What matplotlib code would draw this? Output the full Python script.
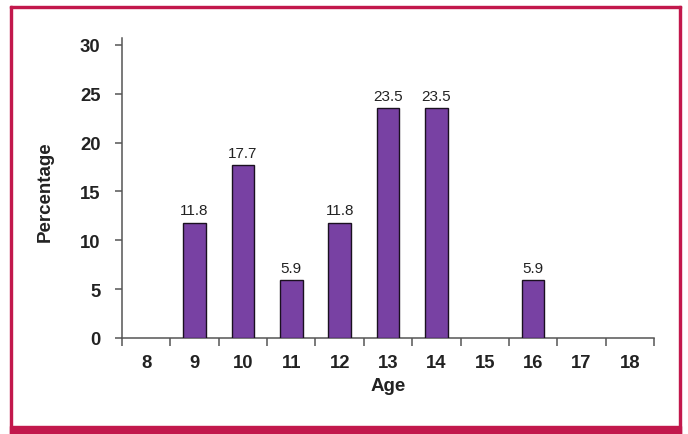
import matplotlib
matplotlib.use("Agg")
import matplotlib.pyplot as plt
from matplotlib.patches import Rectangle
import numpy as np

ages = ["8", "9", "10", "11", "12", "13", "14", "15", "16", "17", "18"]
percentages = [0, 11.8, 17.7, 5.9, 11.8, 23.5, 23.5, 0, 5.9, 0, 0]
yticks = [0, 5, 10, 15, 20, 25, 30]

plt.rcParams['font.family'] = ['Liberation Sans', 'DejaVu Sans']

fig = plt.figure(figsize=(6.88, 4.35), dpi=100)
W, H = 688, 435
ax = fig.add_axes([122 / W, 1 - 339 / H, (654 - 122) / W, (339 - 39) / H])

x = np.arange(len(ages))
vals = np.array(percentages, dtype=float)
bar_color = "#7841A3"
lw = [1.0 if v > 0 else 0 for v in vals]
ax.bar(x, vals, width=0.47, color=bar_color, edgecolor="#1a1020", linewidth=lw, zorder=3)
for xi, v in zip(x, vals):
    if v > 0:
        ax.text(xi, v + 0.55, f"{v:.1f}", ha="center", va="bottom", fontsize=11, color="#222222")

ax.set_xlim(-0.5, len(ages) - 0.5)
ax.set_ylim(0, 30.7)
ax.set_yticks(yticks)
ax.set_yticklabels([str(t) for t in yticks], fontsize=13.3, fontweight="bold", color="#222222")
ax.set_xticks(x)
ax.set_xticklabels(ages, fontsize=13.3, fontweight="bold", color="#222222")
ax.set_xticks(np.arange(-0.5, len(ages)), minor=True)
ax.tick_params(axis="x", which="major", length=0, pad=11.5)
ax.tick_params(axis="x", which="minor", length=6, width=1.1, color="#555555", direction="out")
ax.tick_params(axis="y", which="major", length=5, width=1.1, color="#555555", pad=10.5)

for s in ["top", "right"]:
    ax.spines[s].set_visible(False)
for s in ["left", "bottom"]:
    ax.spines[s].set_color("#555555")
    ax.spines[s].set_linewidth(1.1)

ax.set_ylabel("Percentage", fontsize=13.5, fontweight="bold", color="#222222")
ax.set_xlabel("Age", fontsize=13.5, fontweight="bold", color="#222222")
ax.yaxis.set_label_coords((45 - 122) / (654 - 122), (339 - 192) / (339 - 39))
ax.xaxis.set_label_coords((388 - 122) / (654 - 122), -(387 - 339) / (339 - 39))
ax.yaxis.label.set_verticalalignment("center")
ax.xaxis.label.set_verticalalignment("center")

frame_color = "#C2184C"
fig.patches.append(Rectangle((10 / W, 1 - 435 / H), 2 / W, (435 - 7) / H, transform=fig.transFigure, color=frame_color, zorder=0))
fig.patches.append(Rectangle((10 / W, 1 - 9 / H), (681 - 10) / W, 2 / H, transform=fig.transFigure, color=frame_color, zorder=0))
fig.patches.append(Rectangle((679 / W, 1 - 435 / H), 2 / W, (435 - 7) / H, transform=fig.transFigure, color=frame_color, zorder=0))
fig.patches.append(Rectangle((10 / W, 0), (681 - 10) / W, 8 / H, transform=fig.transFigure, color=frame_color, zorder=0))

fig.savefig("out.png", dpi=100)
